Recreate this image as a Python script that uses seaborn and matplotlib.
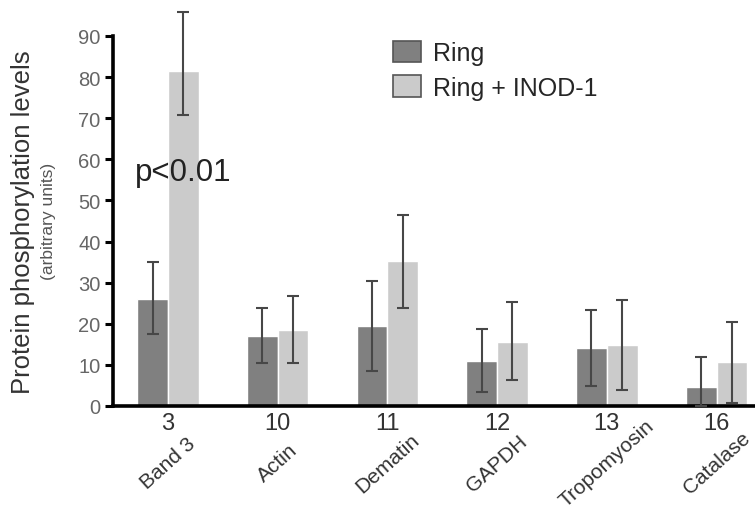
import matplotlib
matplotlib.use("Agg")
import numpy as np
import pandas as pd
import seaborn as sns
from matplotlib import pyplot as plt
from matplotlib.patches import Patch
from matplotlib.transforms import blended_transform_factory

band_numbers = ["3", "10", "11", "12", "13", "16"]
proteins = ["Band 3", "Actin", "Dematin", "GAPDH", "Tropomyosin", "Catalase"]
groups = ["Ring", "Ring + INOD-1"]

ring_values = [26.0, 17.0, 19.5, 11.0, 14.0, 4.5]
ring_err_low = [8.5, 6.5, 11.1, 7.7, 9.1, 4.5]
ring_err_high = [9.1, 6.8, 10.9, 7.8, 9.4, 7.3]

inod_values = [81.5, 18.5, 35.2, 15.5, 14.8, 10.6]
inod_err_low = [10.7, 8.0, 11.4, 9.2, 11.0, 9.9]
inod_err_high = [14.3, 8.3, 11.3, 9.8, 11.0, 9.8]

COLORS = ["#808080", "#cbcbcb"]
ERR_COLOR = "#474747"

df = pd.DataFrame(
    {
        "band": band_numbers * 2,
        "group": [groups[0]] * len(band_numbers) + [groups[1]] * len(band_numbers),
        "value": ring_values + inod_values,
    }
)
errors = {
    groups[0]: (ring_err_low, ring_err_high),
    groups[1]: (inod_err_low, inod_err_high),
}

sns.set_style("white")
plt.rcParams["font.family"] = ["Liberation Sans", "DejaVu Sans"]

fig = plt.figure(figsize=(7.55, 5.10), dpi=100)
ax = fig.add_axes([0.1497, 0.202, 0.8503, 0.7255])

sns.barplot(
    data=df,
    x="band",
    y="value",
    hue="group",
    palette=COLORS,
    width=0.56,
    errorbar=None,
    saturation=1,
    legend=False,
    ax=ax,
)

for container, group in zip(ax.containers, groups):
    lo, hi = errors[group]
    xs = [bar.get_x() + bar.get_width() / 2 for bar in container]
    ys = [bar.get_height() for bar in container]
    ax.errorbar(
        xs,
        ys,
        yerr=[lo, hi],
        fmt="none",
        ecolor=ERR_COLOR,
        elinewidth=1.5,
        capsize=4,
        capthick=1.5,
        clip_on=False,
        zorder=3,
    )

ax.set_xlim(-0.5, 5.35)
ax.set_ylim(0, 90)
ax.set_yticks(np.arange(0, 91, 10))
ax.tick_params(axis="y", labelsize=14.5, labelcolor="#666666", length=6, width=2.2,
               color="black", direction="out", pad=3, left=True)
ax.tick_params(axis="x", labelsize=17, labelcolor="#333333", length=0, pad=4)
ax.set_xlabel("")
ax.set_ylabel("")

for side in ["top", "right"]:
    ax.spines[side].set_visible(False)
for side in ["left", "bottom"]:
    ax.spines[side].set_linewidth(2.6)
    ax.spines[side].set_color("black")

trans = blended_transform_factory(ax.transData, ax.transAxes)
for i, name in enumerate(proteins):
    ax.text(i, -0.153, name, transform=trans, rotation=42, ha="center",
            va="center", fontsize=15, color="#333333")

ax.text(-0.3, 57, "p<0.01", fontsize=22.5, color="#222222", ha="left", va="center")

fig.text(0.03, 0.565, "Protein phosphorylation levels", rotation=90,
         ha="center", va="center", fontsize=18.5, color="#333333")
fig.text(0.064, 0.565, "(arbitrary units)", rotation=90,
         ha="center", va="center", fontsize=12.5, color="#555555")

handles = [Patch(facecolor=c, edgecolor="#555555", linewidth=1.2) for c in COLORS]
fig.legend(
    handles,
    groups,
    loc="upper left",
    bbox_to_anchor=(0.52, 0.918),
    frameon=False,
    fontsize=18,
    handlelength=1.15,
    handleheight=0.95,
    handletextpad=0.45,
    labelspacing=0.4,
    borderpad=0,
    borderaxespad=0,
)

fig.savefig("out.png", dpi=100)
